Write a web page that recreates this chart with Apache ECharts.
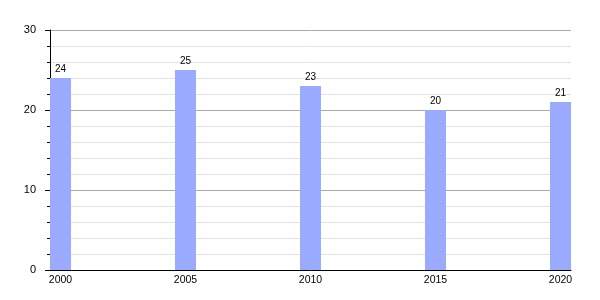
<!DOCTYPE html>
<html><head><meta charset="utf-8">
<script src="https://cdn.jsdelivr.net/npm/echarts@6/dist/echarts.min.js"></script>
<style>html,body{margin:0;padding:0;background:#fff}#c{width:600px;height:300px}</style>
</head><body><div id="c"></div>
<script>
const years = [2000, 2005, 2010, 2015, 2020];
const values = [24, 25, 23, 20, 21];
const yTicks = [0, 10, 20, 30];

const chart = echarts.init(document.getElementById('c'), null, {renderer: 'canvas'});
chart.setOption({
  animation: false,
  grid: {left: 50, right: 29, top: 30, bottom: 30},
  xAxis: {
    type: 'value', min: 1999.58, max: 2020.42,
    splitLine: {show: false},
    axisLine: {show: true, onZero: false, lineStyle: {color: '#000', width: 1}},
    axisTick: {show: false},
    axisLabel: {customValues: years, color: '#000', fontSize: 10.5, fontFamily: 'Liberation Sans', margin: 5, formatter: v => String(Math.round(v))}
  },
  yAxis: {
    type: 'value', min: 0, max: 30, interval: 10,
    axisLine: {show: true, lineStyle: {color: '#000'}},
    axisTick: {show: true, length: 5, lineStyle: {color: '#000'}},
    minorTick: {show: true, splitNumber: 5, length: 3, lineStyle: {color: '#000'}},
    splitLine: {show: true, lineStyle: {color: '#aaaaaa'}},
    minorSplitLine: {show: true, lineStyle: {color: '#e2e2e2'}},
    axisLabel: {color: '#000', fontSize: 11, fontFamily: 'Liberation Sans', margin: 14, padding: [2, 0, 0, 0]}
  },
  series: [{
    type: 'bar',
    data: years.map((y, i) => [y, values[i]]),
    barWidth: 21,
    itemStyle: {color: '#99aaff'},
    label: {show: true, position: 'top', distance: 4, color: '#000', fontSize: 10, fontFamily: 'Liberation Sans'}
  }]
});
</script></body></html>
